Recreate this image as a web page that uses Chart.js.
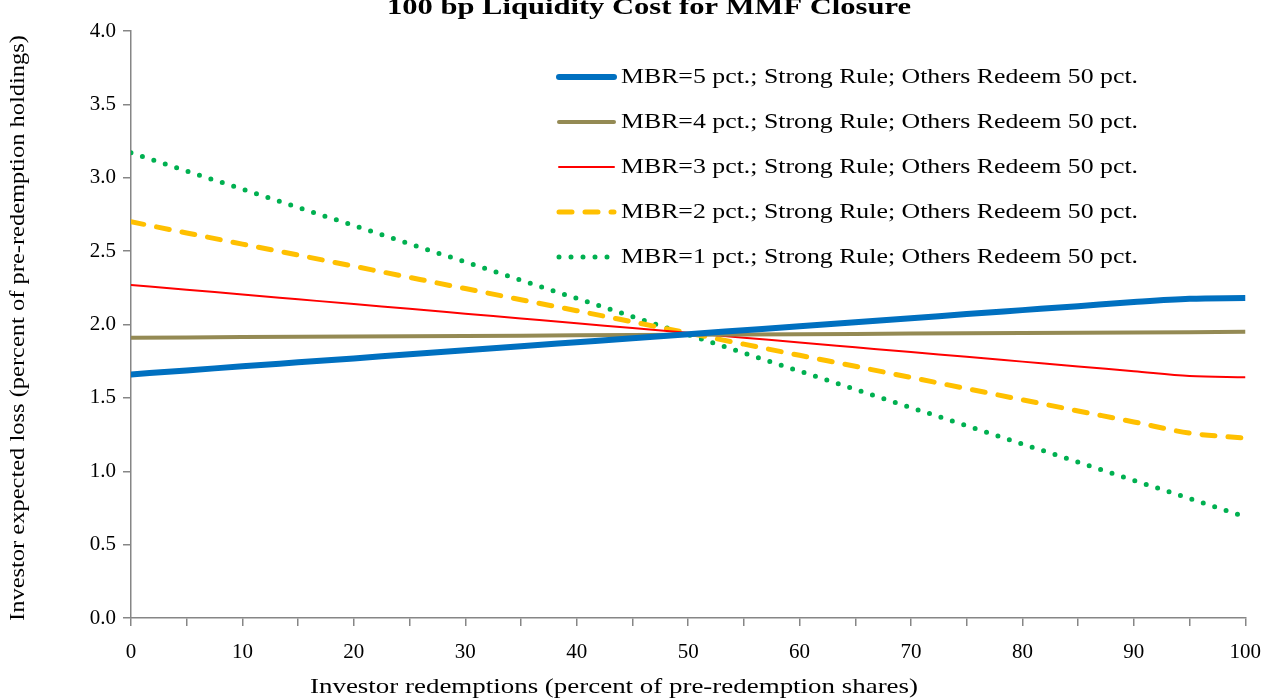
<!DOCTYPE html>
<html>
<head>
<meta charset="utf-8">
<script src="https://cdn.jsdelivr.net/npm/chart.js@4/dist/chart.umd.min.js"></script>
<style>
  html, body { margin: 0; padding: 0; background: #fff; }
  #wrap { width: 1275px; height: 700px; }
</style>
</head>
<body>
<div id="wrap"><canvas id="chart" width="1275" height="700"></canvas></div>
<script>
// values, every 5 pct. of redemptions
const xValues = [0, 5, 10, 15, 20, 25, 30, 35, 40, 45, 50, 55, 60, 65, 70, 75, 80, 85, 90, 95, 100];
const mbr5 = [1.660, 1.687, 1.715, 1.742, 1.769, 1.797, 1.824, 1.852, 1.879, 1.906, 1.934, 1.961, 1.988, 2.016, 2.043, 2.071, 2.098, 2.125, 2.153, 2.175, 2.180];
const mbr4 = [1.910, 1.912, 1.914, 1.916, 1.918, 1.920, 1.922, 1.924, 1.926, 1.928, 1.930, 1.932, 1.934, 1.936, 1.938, 1.940, 1.942, 1.944, 1.946, 1.948, 1.950];
const mbr3 = [2.270, 2.237, 2.205, 2.172, 2.139, 2.107, 2.074, 2.041, 2.008, 1.976, 1.943, 1.910, 1.878, 1.845, 1.812, 1.780, 1.747, 1.714, 1.682, 1.649, 1.640];
const mbr2 = [2.700, 2.624, 2.548, 2.473, 2.397, 2.321, 2.245, 2.169, 2.094, 2.018, 1.942, 1.866, 1.790, 1.715, 1.639, 1.563, 1.487, 1.411, 1.336, 1.260, 1.225];
const mbr1 = [3.170, 3.046, 2.922, 2.798, 2.674, 2.550, 2.426, 2.302, 2.178, 2.054, 1.930, 1.806, 1.682, 1.558, 1.434, 1.310, 1.186, 1.062, 0.938, 0.814, 0.690];

const seriesLabels = [
  'MBR=5 pct.; Strong Rule; Others Redeem 50 pct.',
  'MBR=4 pct.; Strong Rule; Others Redeem 50 pct.',
  'MBR=3 pct.; Strong Rule; Others Redeem 50 pct.',
  'MBR=2 pct.; Strong Rule; Others Redeem 50 pct.',
  'MBR=1 pct.; Strong Rule; Others Redeem 50 pct.'
];
const chartTitle = '100 bp Liquidity Cost for MMF Closure';
const xTitle = 'Investor redemptions (percent of pre-redemption shares)';
const yTitle = 'Investor expected loss (percent of pre-redemption holdings)';

const FONT = '"Liberation Serif", "Times New Roman", serif';
const AXIS = '#868686';

function pts(arr) { return arr.map((v, i) => ({ x: xValues[i], y: v })); }

const base = { pointRadius: 0, fill: false, tension: 0, borderCapStyle: 'round', borderJoinStyle: 'round' };
const datasets = [
  Object.assign({}, base, { label: seriesLabels[0], data: pts(mbr5), borderColor: '#0070C0', borderWidth: 6, cubicInterpolationMode: 'monotone' }),
  Object.assign({}, base, { label: seriesLabels[1], data: pts(mbr4), borderColor: '#948A54', borderWidth: 4 }),
  Object.assign({}, base, { label: seriesLabels[2], data: pts(mbr3), borderColor: '#FF0000', borderWidth: 2, cubicInterpolationMode: 'monotone' }),
  Object.assign({}, base, { label: seriesLabels[3], data: pts(mbr2), borderColor: '#FFC000', borderWidth: 5, borderDash: [13, 13], cubicInterpolationMode: 'monotone' }),
  Object.assign({}, base, { label: seriesLabels[4], data: pts(mbr1), borderColor: '#00B050', borderWidth: 5, borderDash: [0, 12] })
];

// the reference font is wider than Liberation Serif: stretch text to its width
function fitText(ctx, text, x, y, width, align) {
  const w = ctx.measureText(text).width;
  const k = width / w;
  ctx.save();
  ctx.translate(x, y);
  ctx.scale(k, 1);
  ctx.textAlign = align;
  ctx.fillText(text, 0, 0);
  ctx.restore();
}

// legend + titles drawn straight on the canvas
const textPlugin = {
  id: 'texts',
  afterDraw(chart) {
    const ctx = chart.ctx;
    ctx.save();
    ctx.fillStyle = '#000';
    ctx.textBaseline = 'middle';

    ctx.font = 'bold 24px ' + FONT;
    fitText(ctx, chartTitle, 649, 8, 524, 'center');

    ctx.font = '22px ' + FONT;
    fitText(ctx, xTitle, 614, 687, 608, 'center');

    ctx.save();
    ctx.translate(18, 328);
    ctx.rotate(-Math.PI / 2);
    fitText(ctx, yTitle, 0, 0, 586, 'center');
    ctx.restore();

    chart.data.datasets.forEach((ds, i) => {
      const y = 77 + 45 * i;
      ctx.save();
      ctx.strokeStyle = ds.borderColor;
      ctx.lineWidth = ds.borderWidth;
      ctx.lineCap = 'round';
      ctx.setLineDash(ds.borderDash || []);
      ctx.beginPath();
      ctx.moveTo(559, y);
      ctx.lineTo(614, y);
      ctx.stroke();
      ctx.restore();
      ctx.font = '22px ' + FONT;
      fitText(ctx, ds.label, 621, y, 517, 'left');
    });
    ctx.restore();
  }
};

new Chart(document.getElementById('chart'), {
  type: 'line',
  data: { datasets: datasets },
  options: {
    responsive: false,
    animation: false,
    devicePixelRatio: 1,
    layout: { padding: { top: 31, right: 29, left: 0, bottom: 0 } },
    plugins: { legend: { display: false }, tooltip: { enabled: false } },
    scales: {
      x: {
        type: 'linear', min: 0, max: 100,
        afterFit(s) { s.height = 82; },
        ticks: {
          stepSize: 5, autoSkip: false, maxRotation: 0, padding: 14,
          color: '#000', font: { family: FONT, size: 21 },
          callback: v => (v % 10 === 0 ? v : '')
        },
        grid: { drawOnChartArea: false, drawTicks: true, tickLength: 8, color: AXIS, lineWidth: 1.5 },
        border: { color: AXIS, width: 1.5 }
      },
      y: {
        min: 0, max: 4,
        afterFit(s) { s.width = 131; },
        ticks: {
          stepSize: 0.5, padding: 7,
          color: '#000', font: { family: FONT, size: 21 },
          callback: v => v.toFixed(1)
        },
        grid: { drawOnChartArea: false, drawTicks: true, tickLength: 8, color: AXIS, lineWidth: 1.5 },
        border: { color: AXIS, width: 1.5 }
      }
    }
  },
  plugins: [textPlugin]
});
</script>
</body>
</html>
